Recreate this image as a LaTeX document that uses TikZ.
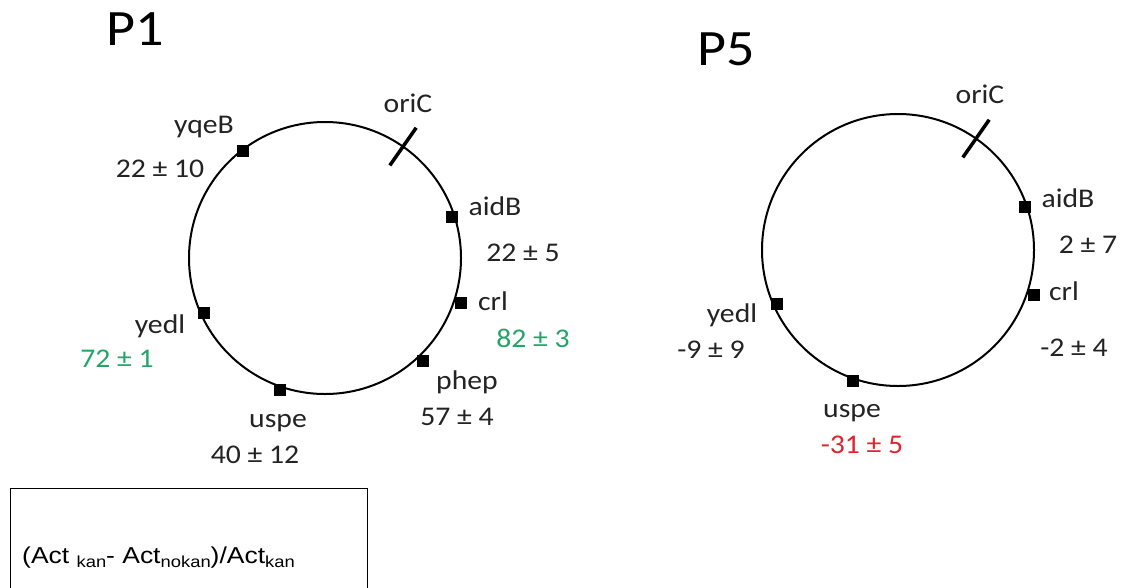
\documentclass[tikz,border=0pt]{standalone}
\usepackage{fontspec}
\setmainfont{Carlito}[FakeStretch=1.1]
\newfontfamily\boxfont{Liberation Sans}[FakeStretch=1.15]
\usetikzlibrary{calc}
\definecolor{pgreen}{RGB}{35,165,105}
\definecolor{pred}{RGB}{225,35,45}
\definecolor{ink}{RGB}{35,35,35}
\tikzset{
  ring/.style={circle, draw=black, line width=2pt, minimum size=272pt, inner sep=0pt, outer sep=0pt},
  mk/.style={rectangle, fill=black, minimum size=12pt, inner sep=0pt},
  lab/.style={anchor=base, inner sep=0pt, text=ink, font=\fontsize{27}{30}\selectfont},
  ttl/.style={anchor=base, inner sep=0pt, text=black, font=\fontsize{51}{55}\selectfont},
  tick/.style={line width=3.5pt},
  legend/.style={draw=black, line width=1.4pt, rectangle, inner sep=0pt, minimum width=357pt, minimum height=140pt, anchor=north west}
}
\begin{document}
\begin{tikzpicture}[x=1pt,y=-1pt]
\clip (0,0) rectangle (1121,587);
\fill[white] (0,0) rectangle (1121,587);
% ---------- P1 ----------
\node[ttl] (t1) at (135,45) {P1};
\node[ring] (c1) at (325,258) {};
\draw[tick] ($(c1.55)!23pt!(c1.center)$) coordinate (o1a) -- ($(c1.55)!-23pt!(c1.center)$) coordinate (o1b);
\node[lab] (oric1) at (408,112) {oriC};
\node[mk] (m1y) at (243,151) {};
\node[mk] (m1a) at (452,217) {};
\node[mk] (m1c) at (461,303) {};
\node[mk] (m1p) at (423,361) {};
\node[mk] (m1u) at (280,390) {};
\node[mk] (m1e) at (204,313) {};
\node[lab] (l1y) at (204,133) {yqeB};
\node[lab] (v1y) at (160,177) {22 ± 10};
\node[lab] (l1a) at (495,215) {aidB};
\node[lab] (v1a) at (523,261) {22 ± 5};
\node[lab] (l1c) at (493,310) {crl};
\node[lab, text=pgreen] (v1c) at (533,347) {82 ± 3};
\node[lab] (l1p) at (467,389) {phep};
\node[lab] (v1p) at (457,425) {57 ± 4};
\node[lab] (l1u) at (278,427) {uspe};
\node[lab] (v1u) at (255,463) {40 ± 12};
\node[lab] (l1e) at (160,333) {yedl};
\node[lab, text=pgreen] (v1e) at (117,367) {72 ± 1};
% ---------- P5 ----------
\node[ttl] (t5) at (726,65) {P5};
\node[ring] (c5) at (898,250) {};
\draw[tick] ($(c5.55)!23pt!(c5.center)$) coordinate (o5a) -- ($(c5.55)!-23pt!(c5.center)$) coordinate (o5b);
\node[lab] (oric5) at (980,103) {oriC};
\node[mk] (m5a) at (1025,207) {};
\node[mk] (m5c) at (1034,295) {};
\node[mk] (m5e) at (777,304) {};
\node[mk] (m5u) at (853,381) {};
\node[lab] (l5a) at (1068,207) {aidB};
\node[lab] (v5a) at (1088,253) {2 ± 7};
\node[lab] (l5c) at (1064,300) {crl};
\node[lab] (v5c) at (1074,356) {-2 ± 4};
\node[lab] (l5e) at (732,322) {yedl};
\node[lab] (v5e) at (711,358) {-9 ± 9};
\node[lab] (l5u) at (852,417) {uspe};
\node[lab, text=pred] (v5u) at (862,453) {-31 ± 5};
% ---------- legend ----------
\node[legend] (box) at (10,488) {};
\node[anchor=base west, inner sep=0pt, font=\boxfont\fontsize{23}{26}\selectfont] (formula) at (22,563)
  {(Act \raisebox{-4pt}{\fontsize{16}{18}\selectfont kan}- Act\raisebox{-4pt}{\fontsize{16}{18}\selectfont nokan})/Act\raisebox{-4pt}{\fontsize{16}{18}\selectfont kan}};
\end{tikzpicture}
\end{document}
